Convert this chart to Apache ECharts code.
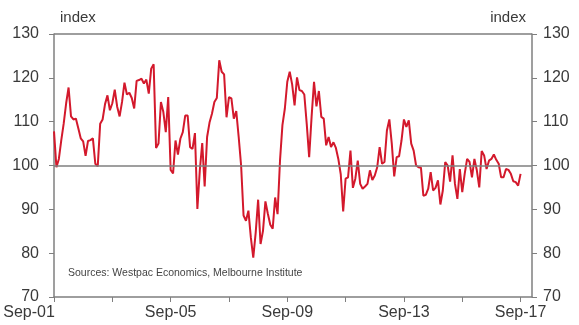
<!DOCTYPE html>
<html>
<head>
<meta charset="utf-8">
<script src="https://cdn.jsdelivr.net/npm/echarts@6/dist/echarts.min.js"></script>
<style>
  html, body { margin: 0; padding: 0; background: #fff; }
  #chart { width: 579px; height: 325px; }
</style>
</head>
<body>
<div id="chart"></div>
<script>
// monthly index, Sep-01 .. Sep-17
const values = [
  107.8, 99.6, 101.5, 105.8, 109.6, 114.2, 117.8, 111.2, 110.5, 110.7, 108.5, 106.2,
  105.5, 102.2, 105.6, 105.8, 106.2, 100.4, 99.8, 109.5, 110.5, 114.0, 116.0, 112.6,
  114.2, 117.3, 113.4, 111.2, 114.5, 118.9, 116.2, 116.6, 115.4, 113.0, 119.3, 119.5,
  119.8, 118.7, 119.6, 116.4, 122.1, 123.1, 104.0, 105.0, 114.5, 112.2, 107.6, 115.6,
  99.0, 98.2, 105.7, 102.5, 106.1, 107.6, 111.4, 111.4, 104.2, 103.8, 107.4, 90.1,
  98.9, 105.1, 95.2, 106.5, 109.8, 111.8, 114.5, 115.4, 124.0, 121.4, 120.8, 111.0,
  115.6, 115.3, 110.7, 112.4, 106.5, 100.0, 88.6, 87.4, 89.7, 83.6, 79.0, 84.7,
  92.2, 82.1, 85.1, 91.8, 89.0, 86.5, 85.6, 92.7, 88.9, 101.1, 109.2, 113.0,
  119.1, 121.4, 118.5, 113.7, 120.1, 117.2, 117.0, 116.2, 109.5, 101.9, 111.1, 119.1,
  113.5, 117.0, 111.1, 110.7, 104.6, 106.5, 104.2, 105.3, 104.0, 101.5, 98.0, 89.5,
  97.0, 97.3, 103.4, 94.9, 97.0, 101.1, 95.8, 94.7, 95.2, 95.8, 98.9, 96.7,
  97.7, 99.6, 104.2, 100.4, 100.8, 108.0, 110.5, 105.0, 97.5, 101.9, 102.1, 105.7,
  110.5, 108.8, 110.3, 105.0, 103.4, 100.0, 99.6, 99.5, 93.1, 93.3, 94.7, 98.5,
  94.3, 94.9, 96.6, 91.1, 94.3, 100.8, 100.0, 96.3, 102.3, 95.8, 92.4, 99.2,
  93.9, 98.1, 101.5, 100.8, 97.3, 101.5, 98.9, 95.0, 103.3, 102.3, 99.2, 101.1,
  101.5, 102.5, 101.3, 100.4, 97.3, 97.3, 99.2, 99.0, 98.1, 96.4, 96.2, 95.4,
  98.1
];
const tickMonths = [0, 24, 48, 72, 96, 120, 144, 168, 192];
const labelMonths = [0, 48, 96, 144, 192];
const labelNames = ['Sep-01', 'Sep-05', 'Sep-09', 'Sep-13', 'Sep-17'];

const seriesData = values.map((v, i) => [i, v]);

const chart = echarts.init(document.getElementById('chart'));

const axisGray = '#7f7f7f';
const textColor = '#3a3a3a';
const fontFamily = 'Liberation Sans, Arial, sans-serif';

function yAxisDef(pos) {
  return {
    type: 'value',
    position: pos,
    min: 70,
    max: 130,
    interval: 10,
    axisLine: { show: true, lineStyle: { color: axisGray, width: 1.5 } },
    axisTick: { show: true, length: 5, lineStyle: { color: axisGray, width: 1 } },
    axisLabel: { color: textColor, fontSize: 16, fontFamily, margin: pos === 'left' ? 15 : 11 },
    splitLine: { show: false }
  };
}

chart.setOption({
  animation: false,
  grid: { left: 54, right: 47, top: 34, bottom: 28, outerBoundsMode: 'none', containLabel: false },
  xAxis: {
    type: 'value',
    min: 0,
    max: 196.7,
    interval: 24,
    axisLine: { show: true, onZero: false, lineStyle: { color: axisGray, width: 1.5 } },
    axisTick: { show: true, length: 5, customValues: tickMonths, lineStyle: { color: axisGray } },
    axisLabel: {
      customValues: labelMonths,
      color: textColor,
      fontSize: 16,
      fontFamily,
      margin: 8,
      formatter: v => {
        const name = labelNames[labelMonths.indexOf(Math.round(v))] || '';
        return Math.round(v) === 0 ? '{first|' + name + '}' : name;
      },
      rich: {
        first: { color: textColor, fontSize: 16, fontFamily, padding: [0, 50, 0, 0] }
      }
    },
    splitLine: { show: false }
  },
  yAxis: [yAxisDef('left'), yAxisDef('right')],
  graphic: [
    { type: 'rect', shape: { x: 54, y: 34, width: 478, height: 0 },
      style: { stroke: axisGray, lineWidth: 1.5, fill: null } },
    { type: 'text', left: 60, top: 10,
      style: { text: 'index', fill: textColor, font: '15px ' + fontFamily } },
    { type: 'text', right: 53, top: 10,
      style: { text: 'index', fill: textColor, font: '15px ' + fontFamily } },
    { type: 'text', left: 68, top: 268,
      style: { text: 'Sources: Westpac Economics, Melbourne Institute', fill: '#444', font: '10.5px ' + fontFamily } }
  ],
  series: [
    {
      type: 'line',
      data: seriesData,
      showSymbol: false,
      lineStyle: { color: '#d3192c', width: 2 },
      markLine: {
        silent: true,
        symbol: 'none',
        label: { show: false },
        lineStyle: { color: axisGray, width: 1.5, type: 'solid' },
        data: [{ yAxis: 100 }]
      },
      z: 3
    }
  ]
});
</script>
</body>
</html>
